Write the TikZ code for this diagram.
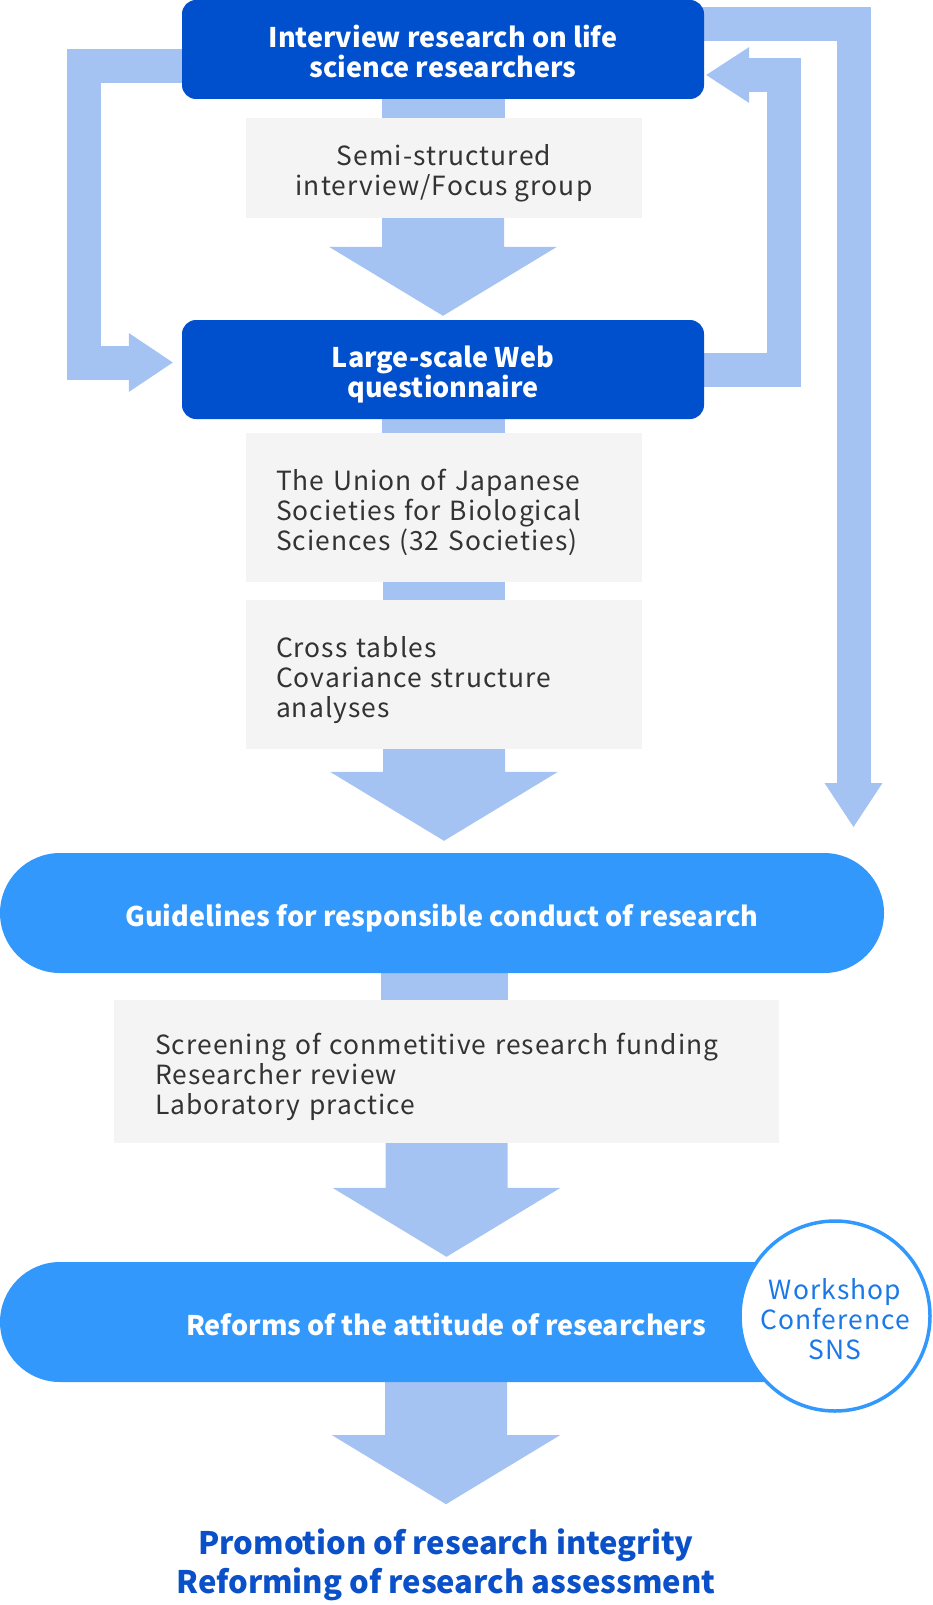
\documentclass[tikz,border=0pt]{standalone}
\usepackage{fontspec}
\setmainfont{Noto Sans CJK JP}
\newfontfamily\bodyfont{Noto Sans CJK JP}[LetterSpace=4]
\usetikzlibrary{positioning, calc, backgrounds}
\definecolor{jsDark}{HTML}{0050CE}
\definecolor{jsSky}{HTML}{3398FC}
\definecolor{jsFlow}{HTML}{A5C3F2}
\definecolor{jsGray}{HTML}{F4F4F4}
\definecolor{jsText}{HTML}{333333}
\definecolor{jsNavy}{HTML}{0A50C8}
\definecolor{jsLink}{HTML}{1A78E8}

% fixed first-line height and last-line depth, so text sits like the web layout
\newcommand{\topstrut}{\rule{0pt}{34pt}}
\newcommand{\botstrut}{\rule[-8pt]{0pt}{8pt}}

% broad down arrow: from a node side to a tip point
\newcommand{\fatdown}[2]{%
  \fill[flow] let \p1=(#1), \p2=(#2) in
    (\x2-61pt,\y1+4pt) -- (\x2+61pt,\y1+4pt) -- (\x2+61pt,\y2+69pt)
    -- (\x2+114pt,\y2+69pt) -- (\x2,\y2) -- (\x2-114pt,\y2+69pt)
    -- (\x2-61pt,\y2+69pt) -- cycle;}

\begin{document}
\begin{tikzpicture}[x=1pt, y=-1pt,
      every node/.style={font=\bodyfont\fontsize{26.4}{30}\selectfont},
      head/.style={fill=jsDark, text=white, rounded corners=14pt,
                   minimum width=522pt, minimum height=99pt, align=center,
                   font=\fontsize{27}{30}\selectfont\bfseries},
      note/.style={fill=jsGray, text=jsText, minimum width=396pt,
                   minimum height=100pt, align=center},
      list/.style={fill=jsGray, text=jsText, text width=336pt,
                   inner xsep=30pt, minimum height=149pt, align=left},
      pill/.style={fill=jsSky, text=white, rounded corners=60pt,
                   minimum height=120pt,
                   font=\fontsize{27}{30}\selectfont\bfseries},
      ring/.style={circle, fill=white, draw=jsSky, line width=3.5pt,
                   minimum size=190pt, inner sep=0pt, text=jsLink, align=center},
      goal/.style={text=jsNavy, align=center,
                   font=\fontsize{31}{39}\selectfont\bfseries},
      flow/.style={fill=jsFlow},
      loopline/.style={draw=jsFlow, line width=34pt, line join=miter}]
    \useasboundingbox (0,0) rectangle (933,1605);

    \node[head] (intv)  at (443,49.5)  {\topstrut Interview research on life\\science researchers\botstrut};
    \node[note] (semi)  at (444,168)   {\topstrut Semi-structured\\interview/Focus group\botstrut};
    \node[head] (large) at (443,369.5) {\topstrut Large-scale Web\\questionnaire\botstrut};
    \node[list] (union) at (444,507.5) {\topstrut The Union of Japanese\\Societies for Biological\\Sciences (32 Societies)\botstrut};
    \node[list] (cross) at (444,674.5) {\topstrut Cross tables\\Covariance structure\\analyses\botstrut};
    \node[pill, minimum width=884pt] (guide) at (442,913) {\topstrut Guidelines for responsible conduct of research\botstrut};
    \node[list, text width=583pt, inner xsep=41pt, minimum height=143pt]
                (screen) at (446.5,1071.5) {\topstrut Screening of conmetitive research funding\\Researcher review\\Laboratory practice\botstrut};
    \node[pill, minimum width=892pt] (reform) at (446,1322) {\topstrut Reforms of the attitude of researchers\botstrut};
    \node[ring] (media) at (835,1316)  {\topstrut Workshop\\Conference\\SNS\botstrut};
    \node[goal] (goal)  at (446,1561)  {\topstrut Promotion of research integrity\\Reforming of research assessment\botstrut};

    \coordinate (tipL) at ($(large.west)+(-9,-7)$);
    \coordinate (tipI) at ($(intv.east)+(2,25.5)$);
    \coordinate (fbR)  at (853.5,827);

    \begin{scope}[on background layer]
      % straight links
      \fill[flow] ($(intv.south)+(-61,-5)$)  rectangle ($(semi.north)+(61,5)$);
      \fill[flow] ($(large.south)+(-61,-5)$) rectangle ($(union.north)+(61,5)$);
      \fill[flow] ($(union.south)+(-61,-5)$) rectangle ($(cross.north)+(61,5)$);
      \fill[flow] ($(guide.south |- screen.north)+(-61,-30)$) rectangle ($(screen.north)+(61,5)$);
      % broad arrows
      \fatdown{semi.south}{$(large.north)+(0,-4)$}
      \fatdown{cross.south}{$(cross.south |- guide.north)+(0,-12)$}
      \fatdown{screen.south}{$(screen.south |- reform.north)+(0,-5)$}
      \fatdown{reform.south}{$(goal.north |- reform.south)+(0,122)$}
      % feedback loops
      \draw[loopline] ($(intv.west)+(20,16.5)$) -| ($(tipL)+(-88.5,0)$) -- ($(tipL)+(-42,0)$);
      \fill[flow] ($(tipL)+(-44,-29.5)$) -- (tipL) -- ($(tipL)+(-44,29.5)$) -- cycle;
      \draw[loopline] ($(large.east)+(-20,0)$) -| ($(tipI)+(77.5,0)$) -- ($(tipI)+(42,0)$);
      \fill[flow] ($(tipI)+(43,-28)$) -- (tipI) -- ($(tipI)+(43,28)$) -- cycle;
      \draw[loopline] ($(intv.east)+(-20,-25.5)$) -| ($(fbR)+(0,-42)$);
      \fill[flow] ($(fbR)+(-29,-44)$) -- (fbR) -- ($(fbR)+(29,-44)$) -- cycle;
    \end{scope}
  \end{tikzpicture}
\end{document}
